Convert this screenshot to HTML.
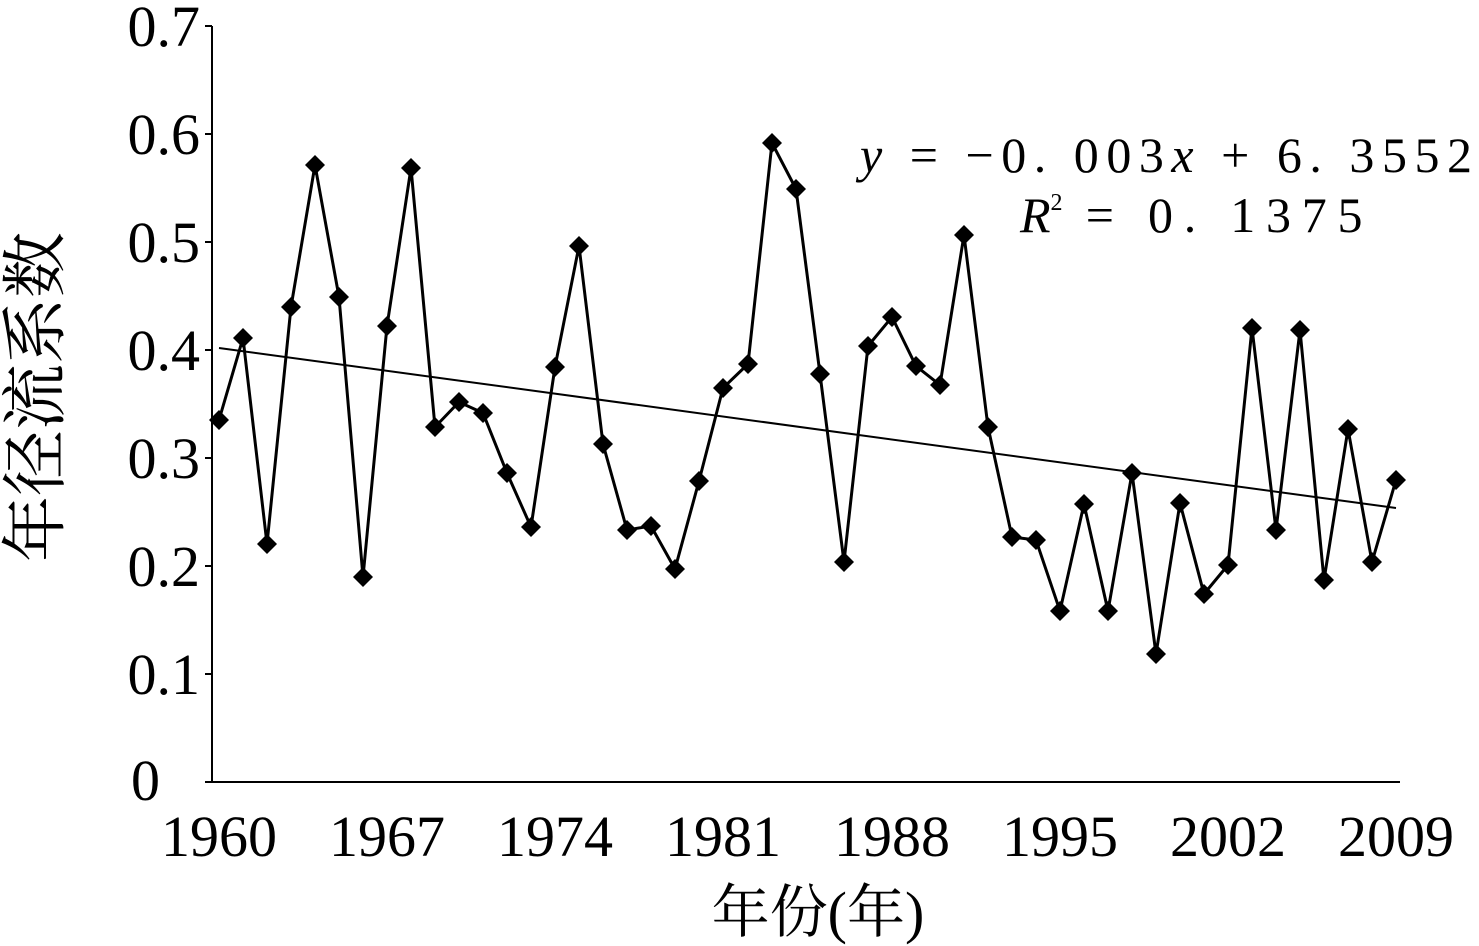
<!DOCTYPE html>
<html><head><meta charset="utf-8"><style>
body{margin:0;background:#fff}
svg{display:block}
text{font-family:"Liberation Serif","Noto Serif CJK SC",serif;fill:#000}
</style></head><body>
<svg width="1479" height="946" viewBox="0 0 1479 946">
<g stroke="#000" stroke-width="2">
<line x1="212" y1="26" x2="212" y2="782"/>
<line x1="212" y1="782" x2="1400" y2="782"/>
<line x1="205" y1="26" x2="212" y2="26"/><line x1="205" y1="134" x2="212" y2="134"/>
<line x1="205" y1="242" x2="212" y2="242"/><line x1="205" y1="350" x2="212" y2="350"/>
<line x1="205" y1="458" x2="212" y2="458"/><line x1="205" y1="566" x2="212" y2="566"/>
<line x1="205" y1="674" x2="212" y2="674"/><line x1="205" y1="782" x2="212" y2="782"/>
</g>
<g font-size="58" text-anchor="end">
<text x="200" y="46">0.7</text><text x="200" y="154">0.6</text><text x="200" y="262">0.5</text>
<text x="200" y="370">0.4</text><text x="200" y="478">0.3</text><text x="200" y="586">0.2</text>
<text x="200" y="694">0.1</text><text x="160" y="800">0</text>
</g>
<g font-size="58" text-anchor="middle">
<text x="219" y="856">1960</text><text x="387" y="856">1967</text><text x="555" y="856">1974</text>
<text x="723" y="856">1981</text><text x="892" y="856">1988</text><text x="1060" y="856">1995</text>
<text x="1228" y="856">2002</text><text x="1396" y="856">2009</text>
</g>
<text x="818" y="932" font-size="58" text-anchor="middle" fill="#333">年份(年)</text>
<text transform="translate(58,397) rotate(-90)" font-size="66" text-anchor="middle" fill="#333">年径流系数</text>
<line x1="219" y1="348" x2="1396" y2="508" stroke="#000" stroke-width="2"/>
<polyline fill="none" stroke="#000" stroke-width="3" points="219,420 243,338 267,544 291,307 315,165 339,297 363,577 387,326 411,168 435,427 459,402 483,413 507,473 531,527 555,367 579,246 603,444 627,530 651,526 675,569 699,481 723,388 748,364 772,143 796,189 820,374 844,562 868,346 892,317 916,366 940,385 964,235 988,427 1012,537 1036,540 1060,611 1084,504 1108,611 1132,473 1156,654 1180,503 1204,594 1228,565 1252,328 1276,530 1300,330 1324,580 1348,429 1372,562 1396,480"/>
<text x="860" y="172" font-size="50" textLength="612" lengthAdjust="spacing"><tspan font-style="italic">y</tspan> = −0. 003<tspan font-style="italic">x</tspan> + 6. 3552</text>
<text x="1020" y="232" font-size="50"><tspan font-style="italic">R</tspan><tspan font-size="24" dy="-22">2</tspan><tspan dy="22" textLength="300" lengthAdjust="spacing"> = 0. 1375</tspan></text>
<g fill="#000">
<path d="M219,410l10,10l-10,10l-10,-10z M243,328l10,10l-10,10l-10,-10z M267,534l10,10l-10,10l-10,-10z M291,297l10,10l-10,10l-10,-10z M315,155l10,10l-10,10l-10,-10z M339,287l10,10l-10,10l-10,-10z M363,567l10,10l-10,10l-10,-10z M387,316l10,10l-10,10l-10,-10z M411,158l10,10l-10,10l-10,-10z M435,417l10,10l-10,10l-10,-10z M459,392l10,10l-10,10l-10,-10z M483,403l10,10l-10,10l-10,-10z M507,463l10,10l-10,10l-10,-10z M531,517l10,10l-10,10l-10,-10z M555,357l10,10l-10,10l-10,-10z M579,236l10,10l-10,10l-10,-10z M603,434l10,10l-10,10l-10,-10z M627,520l10,10l-10,10l-10,-10z M651,516l10,10l-10,10l-10,-10z M675,559l10,10l-10,10l-10,-10z M699,471l10,10l-10,10l-10,-10z M723,378l10,10l-10,10l-10,-10z M748,354l10,10l-10,10l-10,-10z M772,133l10,10l-10,10l-10,-10z M796,179l10,10l-10,10l-10,-10z M820,364l10,10l-10,10l-10,-10z M844,552l10,10l-10,10l-10,-10z M868,336l10,10l-10,10l-10,-10z M892,307l10,10l-10,10l-10,-10z M916,356l10,10l-10,10l-10,-10z M940,375l10,10l-10,10l-10,-10z M964,225l10,10l-10,10l-10,-10z M988,417l10,10l-10,10l-10,-10z M1012,527l10,10l-10,10l-10,-10z M1036,530l10,10l-10,10l-10,-10z M1060,601l10,10l-10,10l-10,-10z M1084,494l10,10l-10,10l-10,-10z M1108,601l10,10l-10,10l-10,-10z M1132,463l10,10l-10,10l-10,-10z M1156,644l10,10l-10,10l-10,-10z M1180,493l10,10l-10,10l-10,-10z M1204,584l10,10l-10,10l-10,-10z M1228,555l10,10l-10,10l-10,-10z M1252,318l10,10l-10,10l-10,-10z M1276,520l10,10l-10,10l-10,-10z M1300,320l10,10l-10,10l-10,-10z M1324,570l10,10l-10,10l-10,-10z M1348,419l10,10l-10,10l-10,-10z M1372,552l10,10l-10,10l-10,-10z M1396,470l10,10l-10,10l-10,-10z"/>
</g>
</svg>
</body></html>
